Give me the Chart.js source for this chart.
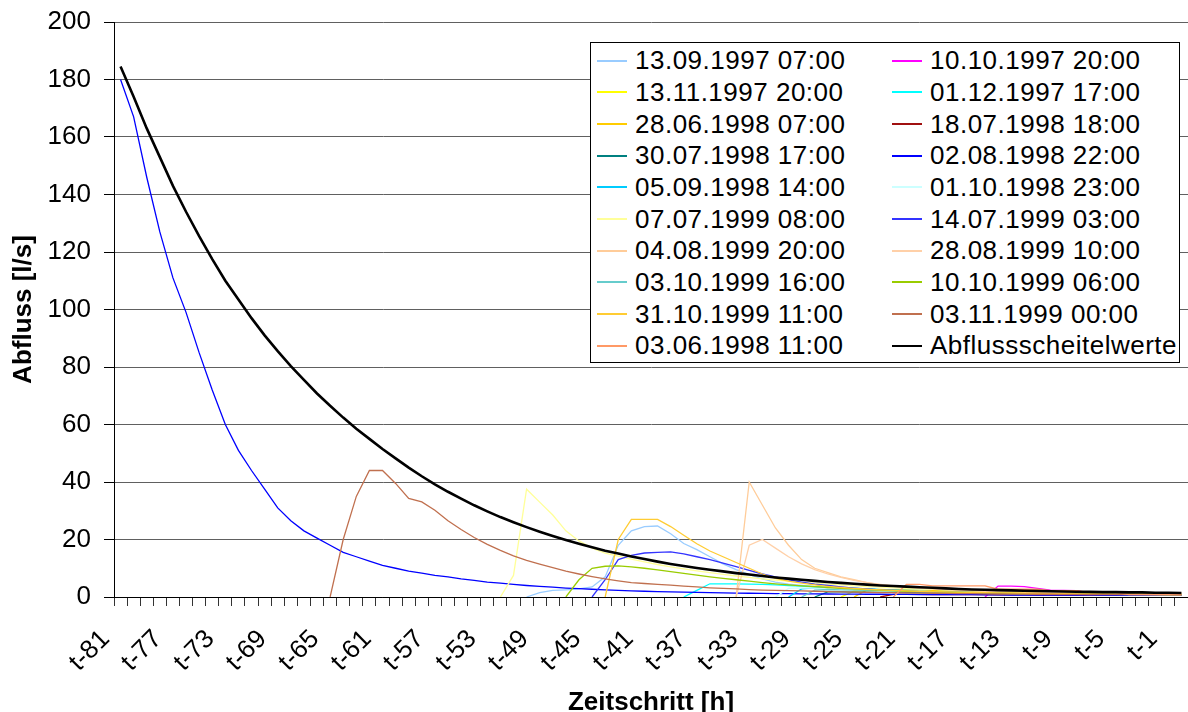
<!DOCTYPE html>
<html>
<head>
<meta charset="utf-8">
<script src="https://cdn.jsdelivr.net/npm/chart.js@4.4.1/dist/chart.umd.min.js"></script>
<style>
  html, body { margin: 0; padding: 0; background: #fff; overflow: hidden; }
  #wrap { position: relative; width: 1188px; height: 712px; }
  #legend {
    position: absolute; left: 590px; top: 42px; width: 590px; height: 321px;
    box-sizing: border-box; border: 1px solid #000; background: #fff;
    display: grid; grid-template-columns: 295px 1fr; grid-auto-rows: 31.67px;
    padding: 2px 0 0 6px;
    font-family: 'Liberation Sans', Arial, sans-serif; font-size: 26px; letter-spacing: 0.5px; color: #000;
  }
  .item { display: flex; align-items: center; white-space: nowrap; }
  .sw { width: 30px; height: 2px; margin-right: 8px; flex: none; }
</style>
</head>
<body>
<div id="wrap">
  <canvas id="c" width="1188" height="712"></canvas>
  <div id="legend"></div>
</div>
<script>
const _ = null;

const categories = [
  't-81','t-80','t-79','t-78','t-77','t-76','t-75','t-74','t-73','t-72',
  't-71','t-70','t-69','t-68','t-67','t-66','t-65','t-64','t-63','t-62',
  't-61','t-60','t-59','t-58','t-57','t-56','t-55','t-54','t-53','t-52',
  't-51','t-50','t-49','t-48','t-47','t-46','t-45','t-44','t-43','t-42',
  't-41','t-40','t-39','t-38','t-37','t-36','t-35','t-34','t-33','t-32',
  't-31','t-30','t-29','t-28','t-27','t-26','t-25','t-24','t-23','t-22',
  't-21','t-20','t-19','t-18','t-17','t-16','t-15','t-14','t-13','t-12',
  't-11','t-10','t-9','t-8','t-7','t-6','t-5','t-4','t-3','t-2',
  't-1','t0'
];

const shownTicks = ['t-81','t-77','t-73','t-69','t-65','t-61','t-57','t-53','t-49','t-45',
  't-41','t-37','t-33','t-29','t-25','t-21','t-17','t-13','t-9','t-5','t-1'];

const yTicks = [0, 20, 40, 60, 80, 100, 120, 140, 160, 180, 200];

const s13091997 = [
  _,_,_,_,_,_,_,_,_,_,
  _,_,_,_,_,_,_,_,_,_,
  _,_,_,_,_,_,_,_,_,_,
  _,0,1.5,2.3,2.5,2.8,3.5,7,18,23,
  24.5,24.7,22,18.6,16.5,14,11.5,9.5,7.8,6.3,
  5.2,4.5,4,3.6,3.3,3,2.8,2.6,2.4,2.2,
  2,1.9,1.8,1.7,1.6,1.5,1.4,1.3,1.3,1.2,
  1.2,1.1,1.1,1,1,1,0.9,0.9,0.9,0.8,
  0.8,0.8
];
const s10101997 = [
  _,_,_,_,_,_,_,_,_,_,
  _,_,_,_,_,_,_,_,_,_,
  _,_,_,_,_,_,_,_,_,_,
  _,_,_,_,_,_,_,_,_,_,
  _,_,_,_,_,_,_,_,_,_,
  _,_,_,_,_,_,_,_,_,_,
  _,_,_,_,_,_,0,3.8,3.8,3.6,
  3,2.4,2.3,2.2,1.3,1.2,1.2,1,0.9,0.9,
  0.8,0.8
];
const s13111997 = [
  _,_,_,_,_,_,_,_,_,_,
  _,_,_,_,_,_,_,_,_,_,
  _,_,_,_,_,_,_,_,_,_,
  _,_,_,_,_,_,_,_,_,_,
  _,_,_,_,_,_,_,_,_,_,
  _,_,_,_,_,0,2,2.2,2.2,2.1,
  2,1.9,1.8,1.7,1.6,1.5,1.4,1.3,1.3,1.2,
  1.2,1.1,1.1,1,1,0.9,0.9,0.9,0.8,0.8,
  0.8,0.7
];
const s01121997 = [
  _,_,_,_,_,_,_,_,_,_,
  _,_,_,_,_,_,_,_,_,_,
  _,_,_,_,_,_,_,_,_,_,
  _,_,_,_,_,_,_,_,_,_,
  _,_,_,0,2.3,4.6,4.6,4.6,4.5,4.4,
  4.2,4,3.8,3.6,3.4,3.2,3,2.8,2.6,2.5,
  2.4,2.3,2.2,2.1,2,1.9,1.8,1.7,1.6,1.5,
  1.4,1.4,1.3,1.3,1.2,1.2,1.1,1.1,1,1,
  1,0.9
];
const s28061998 = [
  _,_,_,_,_,_,_,_,_,_,
  _,_,_,_,_,_,_,_,_,_,
  _,_,_,_,_,_,_,_,_,_,
  _,_,_,_,_,_,_,_,_,_,
  _,_,_,_,_,_,_,_,_,_,
  _,_,_,_,_,_,0,2.5,2.6,2.5,
  2.4,2.3,2.2,2.1,2,1.9,1.8,1.7,1.6,1.5,
  1.4,1.3,1.2,1.2,1.1,1.1,1,1,0.9,0.9,
  0.9,0.8
];
const s18071998 = [
  _,_,_,_,_,_,_,_,_,_,
  _,_,_,_,_,_,_,_,_,_,
  _,_,_,_,_,_,_,_,_,_,
  _,_,_,_,_,_,_,_,_,_,
  _,_,_,_,_,_,_,_,_,_,
  _,_,_,_,_,_,_,_,0,0.9,
  0.9,0.9,0.85,0.85,0.8,0.8,0.8,0.75,0.75,0.75,
  0.7,0.7,0.7,0.7,0.65,0.65,0.65,0.65,0.6,0.6,
  0.6,0.6
];
const s30071998 = [
  _,_,_,_,_,_,_,_,_,_,
  _,_,_,_,_,_,_,_,_,_,
  _,_,_,_,_,_,_,_,_,_,
  _,_,_,_,_,_,_,_,_,_,
  _,_,_,_,_,_,_,_,_,_,
  _,_,_,0,1.8,1.8,1.7,1.7,1.6,1.6,
  1.5,1.5,1.4,1.4,1.3,1.3,1.2,1.2,1.1,1.1,
  1,1,1,0.9,0.9,0.9,0.8,0.8,0.8,0.7,
  0.7,0.7
];
const s02081998 = [
  180,167,146,127,111,99,85,72,60,51,
  44,37.5,31,26.5,23,20.5,18,15.5,14,12.5,
  11,10,9,8.3,7.5,7,6.3,5.8,5.2,4.8,
  4.4,4,3.7,3.4,3.1,2.9,2.7,2.5,2.3,2.1,
  2,1.9,1.8,1.7,1.6,1.5,1.4,1.35,1.3,1.25,
  1.2,1.15,1.1,1.1,1.05,1,1,0.95,0.95,0.9,
  0.9,0.85,0.85,0.8,0.8,0.8,0.75,0.75,0.7,0.7,
  0.7,0.7,0.65,0.65,0.65,0.6,0.6,0.6,0.6,0.6,
  0.55,0.55
];
const s05091998 = [
  _,_,_,_,_,_,_,_,_,_,
  _,_,_,_,_,_,_,_,_,_,
  _,_,_,_,_,_,_,_,_,_,
  _,_,_,_,_,_,_,_,_,_,
  _,_,_,_,_,_,_,_,_,_,
  _,0,2.8,3.2,3.2,3.1,3,2.8,2.6,2.4,
  2.2,2,1.9,1.8,1.7,1.6,1.5,1.4,1.3,1.2,
  1.2,1.1,1.1,1,1,1,0.9,0.9,0.9,0.8,
  0.8,0.8
];
const s01101998 = [
  _,_,_,_,_,_,_,_,_,_,
  _,_,_,_,_,_,_,_,_,_,
  _,_,_,_,_,_,_,_,_,_,
  _,_,_,_,_,_,_,_,_,_,
  _,_,_,_,_,_,_,_,_,_,
  0,3,3.2,3.1,3,2.9,2.7,2.5,2.3,2.2,
  2.1,2,1.9,1.8,1.7,1.6,1.5,1.4,1.3,1.3,
  1.2,1.2,1.1,1.1,1,1,1,0.9,0.9,0.9,
  0.8,0.8
];
const s07071999 = [
  _,_,_,_,_,_,_,_,_,_,
  _,_,_,_,_,_,_,_,_,_,
  _,_,_,_,_,_,_,_,_,0,
  7.5,37.5,33,28.5,23,19.5,17,15.3,14.2,13.2,
  12.2,11.3,10.5,9.8,9.1,8.5,7.9,7.3,6.8,6.3,
  5.9,5.5,5.1,4.8,4.5,4.2,3.9,3.6,3.4,3.2,
  3,2.8,2.7,2.5,2.4,2.3,2.2,2.1,2,1.9,
  1.8,1.7,1.7,1.6,1.5,1.5,1.4,1.4,1.3,1.3,
  1.2,1.2
];
const s14071999 = [
  _,_,_,_,_,_,_,_,_,_,
  _,_,_,_,_,_,_,_,_,_,
  _,_,_,_,_,_,_,_,_,_,
  _,_,_,_,_,_,0,6,13,14.5,
  15.3,15.5,15.7,15,14,13,11.8,10.6,9.3,8,
  7,6,5.2,4.5,4,3.5,3.1,2.8,2.5,2.3,
  2.1,1.9,1.8,1.7,1.6,1.5,1.4,1.3,1.2,1.2,
  1.1,1.1,1,1,1,0.9,0.9,0.9,0.8,0.8,
  0.8,0.8
];
const s04081999 = [
  _,_,_,_,_,_,_,_,_,_,
  _,_,_,_,_,_,_,_,_,_,
  _,_,_,_,_,_,_,_,_,_,
  _,_,_,_,_,_,_,_,_,_,
  _,_,_,_,_,_,_,0,40,32,
  24,18,13,10,8.5,7,6,5,4.3,3.8,
  3.4,3.1,2.8,2.6,2.4,2.2,2,1.9,1.8,1.7,
  1.6,1.5,1.4,1.4,1.3,1.3,1.2,1.2,1.1,1.1,
  1,1
];
const s28081999 = [
  _,_,_,_,_,_,_,_,_,_,
  _,_,_,_,_,_,_,_,_,_,
  _,_,_,_,_,_,_,_,_,_,
  _,_,_,_,_,_,_,_,_,_,
  _,_,_,_,_,_,_,0,18,20,
  17,14,11.5,9.5,8,6.8,5.8,5,4.4,3.9,
  3.5,3.2,2.9,2.7,2.5,2.3,2.1,2,1.9,1.8,
  1.7,1.6,1.5,1.5,1.4,1.4,1.3,1.3,1.2,1.2,
  1.1,1.1
];
const s03101999 = [
  _,_,_,_,_,_,_,_,_,_,
  _,_,_,_,_,_,_,_,_,_,
  _,_,_,_,_,_,_,_,_,_,
  _,_,_,_,_,_,_,_,_,_,
  _,_,_,_,_,_,_,_,_,_,
  _,_,0,2.4,2.6,2.5,2.4,2.3,2.2,2.1,
  2,1.9,1.8,1.7,1.6,1.5,1.4,1.3,1.2,1.2,
  1.1,1.1,1,1,0.9,0.9,0.9,0.8,0.8,0.8,
  0.7,0.7
];
const s10101999 = [
  _,_,_,_,_,_,_,_,_,_,
  _,_,_,_,_,_,_,_,_,_,
  _,_,_,_,_,_,_,_,_,_,
  _,_,_,_,0,6,10,10.7,10.8,10.5,
  10,9.4,8.8,8.2,7.6,7,6.5,6,5.5,5,
  4.6,4.2,3.9,3.6,3.3,3,2.8,2.6,2.4,2.2,
  2,1.9,1.8,1.7,1.6,1.5,1.4,1.3,1.3,1.2,
  1.2,1.1,1.1,1,1,1,0.9,0.9,0.9,0.9,
  0.8,0.8
];
const s31101999 = [
  _,_,_,_,_,_,_,_,_,_,
  _,_,_,_,_,_,_,_,_,_,
  _,_,_,_,_,_,_,_,_,_,
  _,_,_,_,_,_,_,0,20,27,
  27,27,24.5,21.5,18.5,16,14,12,10,8,
  6.5,5.5,4.8,4.2,3.7,3.3,3,2.7,2.5,2.3,
  2.1,2,1.9,1.8,1.7,1.6,1.5,1.4,1.4,1.3,
  1.3,1.2,1.2,1.1,1.1,1.1,1,1,1,0.9,
  0.9,0.9
];
const s03111999 = [
  _,_,_,_,_,_,_,_,_,_,
  _,_,_,_,_,_,0,20,35,44,
  44,39.5,34.3,33.1,30.2,26.5,23.5,20.7,18.3,16.2,
  14.3,12.7,11.4,10.2,9,8,7.1,6.3,5.6,5,
  4.7,4.4,4.1,3.8,3.5,3.2,3,2.8,2.6,2.4,
  2.3,2.2,2.1,2,1.9,1.8,1.7,1.6,1.55,1.5,
  1.4,1.35,1.3,1.25,1.2,1.15,1.1,1.05,1,1,
  0.95,0.95,0.9,0.9,0.85,0.85,0.8,0.8,0.8,0.75,
  0.75,0.7
];
const s03061998 = [
  _,_,_,_,_,_,_,_,_,_,
  _,_,_,_,_,_,_,_,_,_,
  _,_,_,_,_,_,_,_,_,_,
  _,_,_,_,_,_,_,_,_,_,
  _,_,_,_,_,_,_,_,_,_,
  _,_,_,_,_,_,_,_,_,0,
  4.4,4.4,3.9,3.9,3.9,3.9,3.9,2.7,2.7,2.7,
  2.7,2.2,2.2,2.2,1.5,1.5,1.5,0.8,0.8,0.8,
  0.8,0.8
];
const scheitelwerte = [
  184.5,174,163,153,143,134,125.5,117.5,110,103.5,
  97,91,85.5,80.3,75.5,70.8,66.5,62.4,58.5,55,
  51.5,48.2,45,42,39.2,36.6,34.2,31.9,29.8,27.8,
  26,24.3,22.7,21.2,19.8,18.5,17.3,16.1,15.1,14.1,
  13.2,12.3,11.5,10.8,10.1,9.5,8.9,8.3,7.8,7.3,
  6.8,6.4,6,5.6,5.2,4.9,4.6,4.3,4,3.8,
  3.6,3.4,3.2,3,2.8,2.6,2.5,2.4,2.3,2.2,
  2.1,2,1.9,1.8,1.8,1.7,1.7,1.6,1.6,1.5,
  1.5,1.4
];

const seriesLabels = [
  '13.09.1997 07:00','10.10.1997 20:00','13.11.1997 20:00','01.12.1997 17:00',
  '28.06.1998 07:00','18.07.1998 18:00','30.07.1998 17:00','02.08.1998 22:00',
  '05.09.1998 14:00','01.10.1998 23:00','07.07.1999 08:00','14.07.1999 03:00',
  '04.08.1999 20:00','28.08.1999 10:00','03.10.1999 16:00','10.10.1999 06:00',
  '31.10.1999 11:00','03.11.1999 00:00','03.06.1998 11:00','Abflussscheitelwerte'
];
const seriesData = [
  s13091997, s10101997, s13111997, s01121997,
  s28061998, s18071998, s30071998, s02081998,
  s05091998, s01101998, s07071999, s14071999,
  s04081999, s28081999, s03101999, s10101999,
  s31101999, s03111999, s03061998, scheitelwerte
];
const seriesColors = [
  '#99CCFF','#FF00FF','#FFFF00','#00FFFF',
  '#FFCC00','#A01010','#008080','#0000FF',
  '#00CCFF','#CCFFFF','#FFFF99','#3333FF',
  '#FFCC99','#FFD0A8','#66CCCC','#99CC00',
  '#FFCC33','#C0704F','#FF9966','#000000'
];

const n = seriesData.length;
const datasets = seriesData.map((d, i) => ({
  label: seriesLabels[i],
  data: d,
  borderColor: seriesColors[i],
  backgroundColor: seriesColors[i],
  borderWidth: i === n - 1 ? 2.6 : 1.3,
  pointRadius: 0,
  tension: 0,
  fill: false,
  spanGaps: false,
  order: n - i
}));

const fam = "'Liberation Sans', Arial, sans-serif";

const chart = new Chart(document.getElementById('c'), {
  type: 'line',
  data: { labels: categories, datasets },
  options: {
    responsive: false,
    animation: false,
    devicePixelRatio: 1,
    layout: { padding: { top: 22, right: 0, left: 0, bottom: 0 } },
    plugins: { legend: { display: false }, tooltip: { enabled: false } },
    scales: {
      x: {
        type: 'category',
        offset: true,
        grid: { offset: true, drawOnChartArea: false, drawTicks: true, tickLength: 9, tickColor: '#333', lineWidth: 1 },
        border: { display: true, color: '#000', width: 1 },
        ticks: {
          autoSkip: false, minRotation: 45, maxRotation: 45, padding: 18, labelOffset: -15,
          color: '#000',
          font: { family: fam, size: 26 },
          callback: function(v, i) { return shownTicks.includes(categories[i]) ? categories[i] : ''; }
        },
        title: {
          display: true, text: 'Zeitschritt [h]', color: '#000',
          font: { family: fam, size: 26, weight: 'bold', lineHeight: 0.7 },
          padding: { top: 0, bottom: 0 }
        },
        afterFit: function(s) { s.height = 115; s.paddingLeft = 0; s.paddingRight = 0; }
      },
      y: {
        min: 0, max: 200,
        afterBuildTicks: function(s) { s.ticks = yTicks.map(v => ({ value: v })); },
        grid: { color: '#606060', lineWidth: 1, tickLength: 10, tickColor: '#000' },
        border: { display: true, color: '#000', width: 1 },
        ticks: {
          padding: 13, color: '#000',
          font: { family: fam, size: 26 }
        },
        title: {
          display: true, text: 'Abfluss [l/s]', color: '#000',
          font: { family: fam, size: 26, weight: 'bold', lineHeight: 1.2 },
          padding: { top: 8, bottom: 0 }
        },
        afterFit: function(s) { s.width = 114; s.paddingTop = 0; s.paddingBottom = 0; }
      }
    }
  }
});

// HTML legend built from the chart's datasets
const legendEl = document.getElementById('legend');
chart.data.datasets.forEach(ds => {
  const item = document.createElement('div');
  item.className = 'item';
  const sw = document.createElement('span');
  sw.className = 'sw';
  sw.style.background = ds.borderColor;
  const tx = document.createElement('span');
  tx.textContent = ds.label;
  item.appendChild(sw);
  item.appendChild(tx);
  legendEl.appendChild(item);
});
</script>
</body>
</html>
